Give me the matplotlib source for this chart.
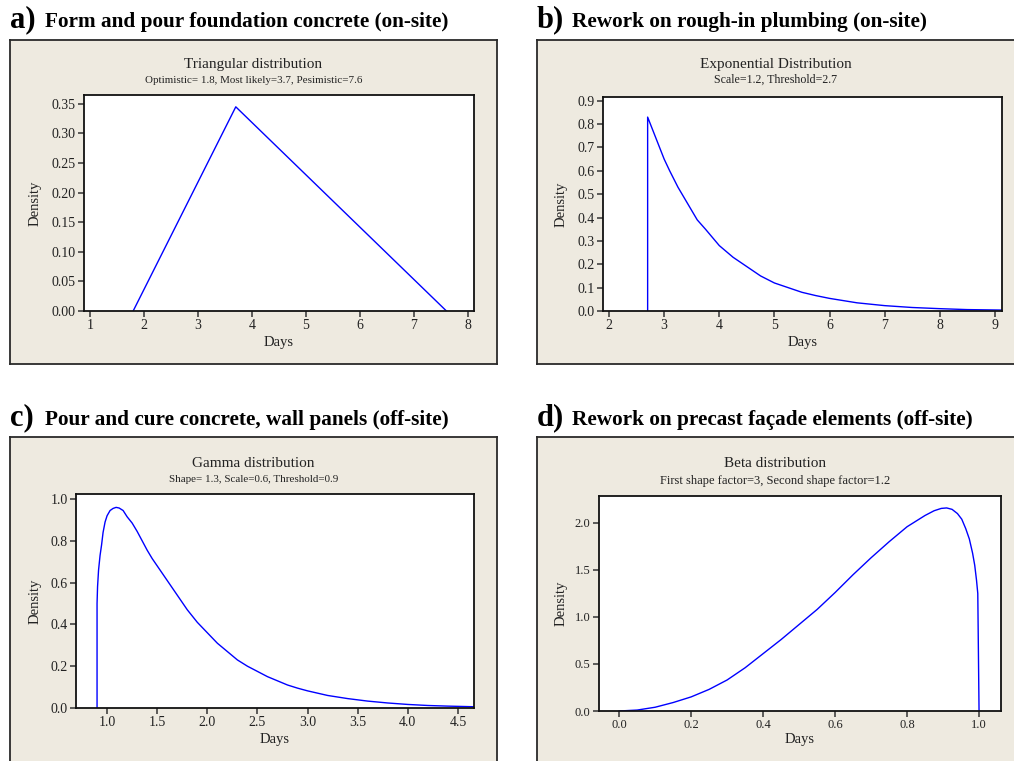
import matplotlib
matplotlib.use("Agg")
import matplotlib.pyplot as plt
from matplotlib import rcParams

rcParams.update({
    "font.family": "serif",
    "font.serif": ["Liberation Serif", "DejaVu Serif"],
    "xtick.direction": "out", "ytick.direction": "out",
    "xtick.major.size": 4, "ytick.major.size": 4,
    "xtick.major.width": 1.1, "ytick.major.width": 1.1,
    "xtick.color": "#333333", "ytick.color": "#333333",
})

W, H = 1014, 761
BEIGE = "#EEEAE0"
EDGE = "#2a2a2a"
LINE = "#0000FF"

# ---- data ----------------------------------------------------------------
tri_x = [1.8, 3.7, 7.6]
tri_y = [0.0, 0.345, 0.0]

exp_x = [2.7, 2.7, 2.8, 2.9, 3.0, 3.1, 3.25, 3.4, 3.5, 3.6, 3.75, 4.0, 4.25,
         4.5, 4.75, 5.0, 5.25, 5.5, 5.75, 6.0, 6.5, 7.0, 7.5, 8.0, 8.5, 9.13]
exp_y = [0.0, 0.83, 0.77, 0.71, 0.65, 0.60, 0.53, 0.47, 0.43, 0.39, 0.35,
         0.28, 0.23, 0.19, 0.15, 0.12, 0.10, 0.08, 0.066, 0.054, 0.035, 0.023,
         0.015, 0.01, 0.006, 0.004]

gam_x = [0.90, 0.90, 0.905, 0.915, 0.93, 0.945, 0.96, 0.98, 1.00, 1.03,
         1.06, 1.09, 1.12, 1.16, 1.20, 1.25, 1.30, 1.35, 1.40, 1.45, 1.50,
         1.55, 1.60, 1.70, 1.80, 1.90, 2.00, 2.10, 2.20, 2.30, 2.40, 2.50,
         2.60, 2.70, 2.80, 2.90, 3.00, 3.20, 3.40, 3.60, 3.80, 4.00, 4.20,
         4.40, 4.66]
gam_y = [0.0, 0.50, 0.58, 0.66, 0.73, 0.78, 0.84, 0.89, 0.92, 0.945,
         0.955, 0.96, 0.957, 0.945, 0.915, 0.885, 0.845, 0.80, 0.755, 0.715,
         0.68, 0.645, 0.61, 0.54, 0.47, 0.41, 0.36, 0.31, 0.27, 0.23, 0.20,
         0.175, 0.15, 0.13, 0.11, 0.095, 0.082, 0.06, 0.045, 0.033, 0.024,
         0.017, 0.012, 0.009, 0.006]

beta_x = [0.0, 0.05, 0.1, 0.15, 0.2, 0.25, 0.3, 0.35, 0.4, 0.45, 0.5, 0.55,
          0.6, 0.65, 0.7, 0.75, 0.8, 0.85, 0.875, 0.895, 0.91, 0.925, 0.94,
          0.952, 0.963, 0.973, 0.982, 0.988, 0.993, 0.9965, 0.998, 1.0]
beta_y = [0.0, 0.01, 0.04, 0.09, 0.15, 0.23, 0.33, 0.46, 0.61, 0.76, 0.92,
          1.08, 1.26, 1.45, 1.63, 1.80, 1.96, 2.08, 2.13, 2.155, 2.16, 2.145,
          2.10, 2.04, 1.94, 1.83, 1.68, 1.55, 1.39, 1.25, 0.71, 0.0]

panels = [
    dict(letter="a)", head="Form and pour foundation concrete (on-site)",
         title="Triangular distribution",
         sub="Optimistic= 1.8, Most likely=3.7, Pesimistic=7.6",
         x=tri_x, y=tri_y, xlim=(0.89, 8.11), ylim=(0, 0.365),
         xticks=[1, 2, 3, 4, 5, 6, 7, 8], xfmt="{:.0f}",
         yticks=[0, 0.05, 0.10, 0.15, 0.20, 0.25, 0.30, 0.35], yfmt="{:.2f}",
         outer=(10, 40, 497, 364), inner=(84, 95, 474, 311),
         head_y=27, title_y=68, sub_y=83, ylab_x=35, xlab_y=342, sfs=7.9),
    dict(letter="b)", head="Rework on rough-in plumbing (on-site)",
         title="Exponential Distribution", sub="Scale=1.2, Threshold=2.7",
         x=exp_x, y=exp_y, xlim=(1.89, 9.13), ylim=(0, 0.916),
         xticks=[2, 3, 4, 5, 6, 7, 8, 9], xfmt="{:.0f}",
         yticks=[0, 0.1, 0.2, 0.3, 0.4, 0.5, 0.6, 0.7, 0.8, 0.9], yfmt="{:.1f}",
         outer=(537, 40, 1016, 364), inner=(603, 97, 1002, 311),
         head_y=27, title_y=68, sub_y=83, ylab_x=561, xlab_y=342, sfs=8.6),
    dict(letter="c)", head="Pour and cure concrete, wall panels (off-site)",
         title="Gamma distribution", sub="Shape= 1.3, Scale=0.6, Threshold=0.9",
         x=gam_x, y=gam_y, xlim=(0.69, 4.66), ylim=(0, 1.024),
         xticks=[1.0, 1.5, 2.0, 2.5, 3.0, 3.5, 4.0, 4.5], xfmt="{:.1f}",
         yticks=[0, 0.2, 0.4, 0.6, 0.8, 1.0], yfmt="{:.1f}",
         outer=(10, 437, 497, 780), inner=(76, 494, 474, 708),
         head_y=425, title_y=467, sub_y=482, ylab_x=35, xlab_y=740, sfs=7.9),
    dict(letter="d)", head="Rework on precast façade elements (off-site)",
         title="Beta distribution",
         sub="First shape factor=3, Second shape factor=1.2",
         x=beta_x, y=beta_y, xlim=(-0.056, 1.061), ylim=(0, 2.287),
         xticks=[0.0, 0.2, 0.4, 0.6, 0.8, 1.0], xfmt="{:.1f}",
         yticks=[0, 0.5, 1.0, 1.5, 2.0], yfmt="{:.1f}",
         outer=(537, 437, 1016, 780), inner=(599, 496, 1001, 711),
         head_y=425, title_y=467, sub_y=484, ylab_x=561, xlab_y=740, sfs=9.0),
]


def rect(box):
    x0, y0, x1, y1 = box
    return [x0 / W, 1 - y1 / H, (x1 - x0) / W, (y1 - y0) / H]


fig = plt.figure(figsize=(W / 100, H / 100), dpi=100)

for p in panels:
    # beige frame behind each panel
    bg = fig.add_axes(rect(p["outer"]))
    bg.set_facecolor(BEIGE)
    bg.set_xticks([])
    bg.set_yticks([])
    for s in bg.spines.values():
        s.set_color(EDGE)
        s.set_linewidth(1.3)

    ax = fig.add_axes(rect(p["inner"]))
    ax.plot(p["x"], p["y"], color=LINE, linewidth=1.0)
    ax.set_xlim(*p["xlim"])
    ax.set_ylim(*p["ylim"])
    ax.set_xticks(p["xticks"])
    ax.set_xticklabels([p["xfmt"].format(v) for v in p["xticks"]])
    ax.set_yticks(p["yticks"])
    ax.set_yticklabels([p["yfmt"].format(v) for v in p["yticks"]])
    ax.tick_params(labelsize=10 if p["letter"] != "d)" else 9, pad=2,
                   labelcolor="#222222")
    for s in ax.spines.values():
        s.set_color("#111111")
        s.set_linewidth(1.3)

    cx = (p["outer"][0] + min(p["outer"][2], 1014)) / 2
    fig.text(p["outer"][0] / W, 1 - p["head_y"] / H, p["letter"],
             fontsize=22, fontweight="bold", va="baseline", ha="left")
    fig.text((p["outer"][0] + 35) / W, 1 - p["head_y"] / H, p["head"],
             fontsize=15.3, fontweight="bold", va="baseline", ha="left")
    fig.text(cx / W, 1 - p["title_y"] / H, p["title"], fontsize=11,
             ha="center", va="baseline", color="#222222")
    fig.text(cx / W, 1 - p["sub_y"] / H, p["sub"], fontsize=p["sfs"],
             ha="center", va="baseline", color="#222222")
    mid_x = (p["inner"][0] + p["inner"][2]) / 2
    mid_y = (p["inner"][1] + p["inner"][3]) / 2
    fig.text(mid_x / W, 1 - p["xlab_y"] / H, "Days", fontsize=10.5,
             ha="center", va="center", color="#222222")
    fig.text(p["ylab_x"] / W, 1 - mid_y / H, "Density", fontsize=10.5,
             ha="center", va="center", rotation=90, color="#222222")

fig.savefig("out.png", dpi=100, facecolor="white")
